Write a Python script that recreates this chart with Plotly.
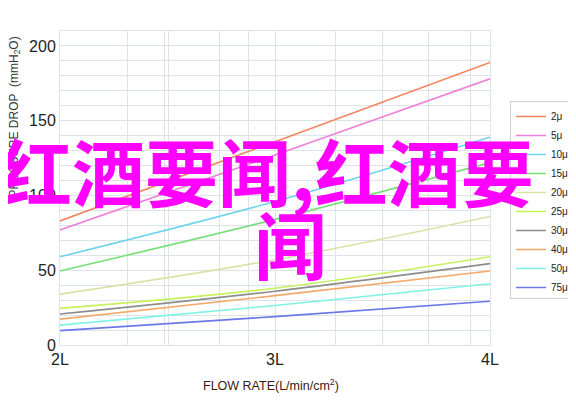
import plotly.graph_objects as go

flow = [2, 3, 4]

names = ["2μ", "5μ", "10μ", "15μ", "20μ", "25μ", "30μ", "40μ", "50μ", "75μ"]
drop_2  = [83, 136, 189]
drop_5  = [77, 127, 178]
drop_10 = [59, 96, 139]
drop_15 = [49.5, 84, 122]
drop_20 = [34, 57, 86]
drop_25 = [24.5, 38, 59]
drop_30 = [20.7, 36, 54.4]
drop_40 = [17.3, 33, 49.5]
drop_50 = [13.3, 26.4, 41]
drop_75 = [9.6, 19, 29.3]
all_drops = [drop_2, drop_5, drop_10, drop_15, drop_20,
             drop_25, drop_30, drop_40, drop_50, drop_75]

colors = ["#F4845F", "#EE82D8", "#6CD4F0", "#78E07A", "#D9E2A6",
          "#C6F25A", "#8C8C8C", "#F4A86A", "#7EF2E6", "#6A78E8"]

# vertical grid positions (only 2L, 3L, 4L get a label)
x_grid = [2, 2.316, 2.486, 2.505, 2.743, 2.879, 3, 3.28, 3.5, 3.715, 3.91, 4]
x_labels = {2: "2L", 3: "3L", 4: "4L"}
y_grid = list(range(0, 211, 10))

# page body has an 8px default margin, so work in screen pixels and subtract it
OFF = 8
W, H = 576 - OFF, 403 - OFF
L, R, T, B = 60 - OFF, 490 - OFF, 31 - OFF, 345 - OFF
def px(x):
    return (x - OFF - L) / (R - L)
def py(y):
    return (B - (y - OFF)) / (B - T)

fig = go.Figure()
for name, ys, c in zip(names, all_drops, colors):
    fig.add_trace(go.Scatter(x=flow, y=ys, mode="lines", name=name,
                             line=dict(color=c, width=1.6, shape="spline")))

grid_col = "#DDE3E8"
fig.update_xaxes(range=[2, 4], tickvals=x_grid,
                 ticktext=[x_labels.get(v, "") for v in x_grid],
                 showgrid=True, gridcolor=grid_col, gridwidth=1,
                 showline=True, linecolor=grid_col, mirror=True,
                 zeroline=False, ticks="", automargin=False,
                 tickfont=dict(family="Arial", size=16, color="#222"))
fig.update_yaxes(range=[0, 210], tickvals=y_grid,
                 ticktext=[str(v) if v % 50 == 0 else "" for v in y_grid],
                 showgrid=True, gridcolor=grid_col, gridwidth=1,
                 showline=True, linecolor=grid_col, mirror=True,
                 zeroline=False, ticks="", automargin=False,
                 tickfont=dict(family="Arial", size=16, color="#222"))

fig.update_layout(
    width=W, height=H,
    margin=dict(l=L, r=W - R, t=T, b=H - B),
    paper_bgcolor="white", plot_bgcolor="white",
    legend=dict(xref="container", yref="container",
                x=(510 - OFF) / W, y=(H - (101 - OFF)) / H,
                xanchor="left", yanchor="top",
                bordercolor="#C8D0D8", borderwidth=1,
                font=dict(family="Arial", size=10, color="#222"),
                tracegroupgap=0, itemwidth=30),
)

# axis titles
fig.add_annotation(text="PRESSURE DROP  (mmH<sub>2</sub>O)", textangle=-90,
                   xref="paper", yref="paper", x=px(14), y=py(35),
                   xanchor="center", yanchor="top", showarrow=False,
                   font=dict(family="Arial", size=12, color="#333"))
fig.add_annotation(text="FLOW RATE(L/min/cm<sup>2</sup>)",
                   xref="paper", yref="paper", x=px(271), y=py(385),
                   xanchor="center", yanchor="middle", showarrow=False,
                   font=dict(family="Arial", size=12.5, color="#3a1a10"))

wm_font = dict(family="Noto Sans CJK SC", size=73, color="#FF00FF", weight="bold")
fig.add_annotation(text="红酒要闻,红酒要", xref="paper", yref="paper",
                   x=px(266), y=py(169), xanchor="center", yanchor="middle",
                   showarrow=False, font=wm_font)
fig.add_annotation(text="闻", xref="paper", yref="paper",
                   x=px(290), y=py(242), xanchor="center", yanchor="middle",
                   showarrow=False, font=wm_font)

fig.write_html("out.html")
